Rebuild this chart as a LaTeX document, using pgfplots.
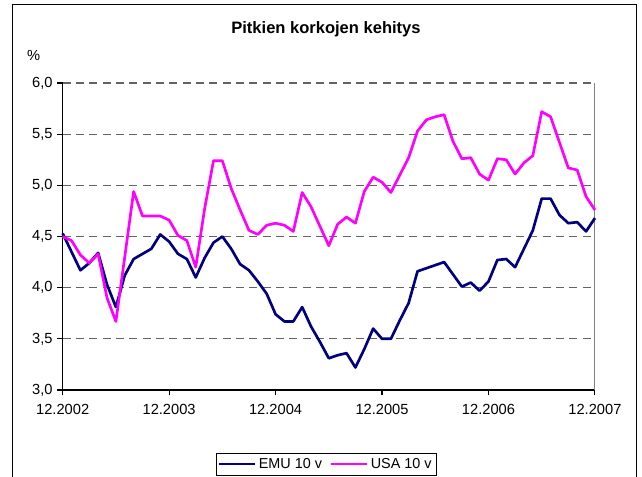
\documentclass[border=0pt]{standalone}
\usepackage{pgfplots}
\pgfplotsset{compat=1.18}
\usepackage{pgfplotstable}
\usepackage{fontspec}
\setmainfont{Liberation Sans}

\definecolor{emublue}{RGB}{0,0,128}
\definecolor{usapink}{RGB}{255,0,255}
\definecolor{gridgray}{RGB}{100,100,100}

% month index (0 = 12.2002), 10-year yields in %
\pgfplotstableread{
m  emu   usa
0  4.53  4.50
1  4.35  4.46
2  4.17  4.32
3  4.24  4.24
4  4.34  4.33
5  4.03  3.90
6  3.81  3.67
7  4.12  4.30
8  4.28  4.94
9  4.33  4.70
10 4.38  4.70
11 4.52  4.70
12 4.45  4.66
13 4.33  4.51
14 4.28  4.46
15 4.10  4.20
16 4.29  4.77
17 4.44  5.24
18 4.50  5.24
19 4.38  4.97
20 4.23  4.76
21 4.17  4.56
22 4.06  4.52
23 3.94  4.61
24 3.74  4.63
25 3.67  4.61
26 3.67  4.55
27 3.81  4.93
28 3.62  4.79
29 3.47  4.60
30 3.31  4.41
31 3.34  4.62
32 3.36  4.69
33 3.22  4.63
34 3.40  4.94
35 3.60  5.08
36 3.50  5.03
37 3.50  4.93
38 3.68  5.10
39 3.85  5.27
40 4.16  5.53
41 4.19  5.64
42 4.22  5.67
43 4.25  5.69
44 4.13  5.43
45 4.01  5.26
46 4.05  5.27
47 3.97  5.11
48 4.06  5.05
49 4.27  5.26
50 4.28  5.25
51 4.20  5.11
52 4.38  5.22
53 4.56  5.29
54 4.87  5.72
55 4.87  5.67
56 4.71  5.42
57 4.63  5.17
58 4.64  5.15
59 4.55  4.89
60 4.68  4.76
}\rates

\begin{document}
\begin{tikzpicture}
% page = 642x477 px at 0.75pt per px, origin at the plot area's lower left corner
\path[use as bounding box] (-47pt,-65.25pt) rectangle (434.5pt,292.5pt);
\draw[black, line width=0.8pt] (-37.8pt,-66pt) -- (-37.8pt,289pt) -- (430.7pt,289pt) -- (430.7pt,-66pt);

\begin{axis}[
    at={(0,0)}, anchor=south west,
    scale only axis,
    width=399.2pt, height=230.25pt,
    xmin=0, xmax=60,
    ymin=3, ymax=6,
    axis lines=left,
    axis line style={-, black, line width=0.8pt},
    xtick={0,12,24,36,48,60},
    xticklabels={12.2002,12.2003,12.2004,12.2005,12.2006,12.2007},
    ytick={3,3.5,4,4.5,5,5.5,6},
    tick align=outside,
    major tick length=4pt,
    tick style={black, line width=0.8pt},
    ymajorgrids,
    grid style={gridgray, line width=0.8pt, dash pattern=on 6pt off 4pt},
    yticklabel style={/pgf/number format/.cd, use comma, fixed, fixed zerofill, precision=1, assume math mode=true},
    ticklabel style={font=\fontsize{11}{13}\selectfont},
    xticklabel style={yshift=-3.5pt},
    clip=false,
    legend columns=2,
    legend style={
        at={(axis description cs:0.495,-0.242)}, anchor=center,
        draw=black, line width=0.6pt,
        font=\fontsize{10.8}{12}\selectfont,
        inner sep=1.5pt,
        /tikz/every even column/.append style={column sep=4pt},
    },
    legend image code/.code={\draw[#1, line width=1.6pt] (0pt,0pt) -- (27pt,0pt);},
]
\draw[gray, line width=0.8pt] (rel axis cs:1,0) -- (rel axis cs:1,1);

\addplot[emublue, line width=2pt, line join=round] table[x=m, y=emu] {\rates};
\addlegendentry{EMU 10 v}
\addplot[usapink, line width=2pt, line join=round] table[x=m, y=usa] {\rates};
\addlegendentry{USA 10 v}

\node[font=\bfseries\fontsize{12.4}{14}\selectfont, anchor=base] at (axis description cs:0.4947,1.1596) {Pitkien korkojen kehitys};
\node[font=\fontsize{11}{13}\selectfont] at (axis description cs:-0.0545,1.091) {\%};
\end{axis}
\end{tikzpicture}
\end{document}
